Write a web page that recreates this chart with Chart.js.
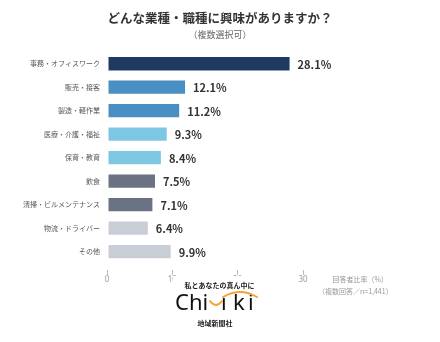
<!DOCTYPE html>
<html lang="ja">
<head>
<meta charset="utf-8">
<title>どんな業種・職種に興味がありますか？</title>
<script src="https://cdn.jsdelivr.net/npm/chart.js@4.4.1/dist/chart.umd.min.js"></script>
<style>
  html, body { margin: 0; padding: 0; background: #fff; }
  body { font-family: "Noto Sans CJK JP", "Noto Sans", sans-serif; }
  #wrap { position: relative; width: 440px; height: 342px; overflow: hidden; }
  #chart { position: absolute; left: 0; top: 0; }
  .title { position: absolute; left: 0; width: 440px; top: 8px; text-align: center;
           font-size: 12.5px; font-weight: 700; color: #333; }
  .subtitle { position: absolute; left: 0; width: 440px; top: 28px; text-align: center;
              font-size: 9px; color: #666; }
  .note { position: absolute; left: 318px; width: 70px; text-align: right;
          font-size: 7px; color: #999; white-space: nowrap; }
  #logo { position: absolute; left: 173px; top: 276px; width: 92px; height: 58px; background: #fff; }
</style>
</head>
<body>
<div id="wrap">
  <canvas id="chart" width="440" height="342"></canvas>
  <div class="title">どんな業種・職種に興味がありますか？</div>
  <div class="subtitle">（複数選択可）</div>
  <div class="note" style="top:274px">回答者比率（%）</div>
  <div class="note" style="top:286px">（複数回答／n=1,441）</div>
  <svg id="logo" viewBox="0 0 92 58" xmlns="http://www.w3.org/2000/svg">
    <text x="46.5" y="12" text-anchor="middle" font-family="Noto Sans CJK JP" font-weight="700" font-size="7" fill="#222">私とあなたの真ん中に</text>
    <g font-family="Noto Sans" font-size="22" fill="#111">
      <text x="2" y="34">Chi</text>
      <text x="48" y="34">ı</text>
      <text x="60" y="34">k</text>
      <text x="75" y="34">i</text>
    </g>
    <path d="M37 25 Q43 33 49 25" stroke="#f0a832" stroke-width="2" fill="none" stroke-linecap="round"/>
    <path d="M50 21 Q67 11 84 21" stroke="#f0a832" stroke-width="2" fill="none" stroke-linecap="round"/>
    <text x="42" y="49.5" text-anchor="middle" font-family="Noto Sans CJK JP" font-weight="700" font-size="7" fill="#222">地域新聞社</text>
  </svg>
</div>
<script>
const categories = [
  "事務・オフィスワーク",
  "販売・接客",
  "製造・軽作業",
  "医療・介護・福祉",
  "保育・教育",
  "飲食",
  "清掃・ビルメンテナンス",
  "物流・ドライバー",
  "その他"
];
const shares = [28.1, 12.1, 11.2, 9.3, 8.4, 7.5, 7.1, 6.4, 9.9];
const xTicks = [0, 10, 20, 30];

const NAVY = "#1f3a61", BLUE = "#4a8fc4", SKY = "#7ec7e3", SLATE = "#6a7283", GREY = "#c9ced6";
const barColors = [NAVY, BLUE, BLUE, SKY, SKY, SLATE, SLATE, GREY, GREY];

// value text to the right of each bar
const valueLabels = {
  id: "valueLabels",
  afterDatasetsDraw(chart) {
    const { ctx } = chart;
    const meta = chart.getDatasetMeta(0);
    ctx.save();
    ctx.font = "700 11px 'Noto Sans CJK JP', 'Noto Sans', sans-serif";
    ctx.fillStyle = "#333";
    ctx.textBaseline = "middle";
    ctx.textAlign = "left";
    meta.data.forEach((bar, i) => {
      ctx.fillText(shares[i].toFixed(1) + "%", bar.x + 7, bar.y + 1);
    });
    ctx.restore();
  }
};

new Chart(document.getElementById("chart"), {
  type: "bar",
  data: {
    labels: categories,
    datasets: [{
      data: shares,
      backgroundColor: barColors,
      borderColor: "rgba(255,255,255,0.35)",
      borderWidth: 1,
      borderSkipped: false,
      categoryPercentage: 1,
      barPercentage: 0.65
    }]
  },
  options: {
    indexAxis: "y",
    responsive: false,
    animation: false,
    layout: { padding: { top: 52, right: 137, bottom: 57, left: 0 } },
    plugins: {
      legend: { display: false },
      tooltip: { enabled: false },
      title: { display: false }
    },
    scales: {
      x: {
        min: 0,
        max: 30,
        afterBuildTicks(scale) { scale.ticks = xTicks.map(v => ({ value: v })); },
        border: { display: false },
        grid: {
          drawOnChartArea: false,
          drawTicks: true,
          tickLength: 12,
          tickBorderDash: [0, 7, 5, 0],
          tickColor: "#bbb",
          tickWidth: 1
        },
        ticks: {
          padding: 0,
          color: "#999",
          font: { family: "'Noto Sans', sans-serif", size: 8 }
        }
      },
      y: {
        afterFit(scale) { scale.width = 107; },
        border: { display: false },
        grid: { display: false, drawTicks: false },
        ticks: {
          padding: 7,
          color: "#555",
          font: { family: "'Noto Sans CJK JP', sans-serif", size: 7 }
        }
      }
    }
  },
  plugins: [valueLabels]
});
</script>
</body>
</html>
